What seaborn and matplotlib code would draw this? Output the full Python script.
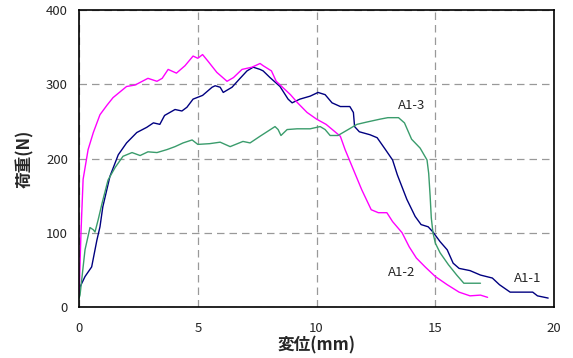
import pandas as pd
import matplotlib
matplotlib.use("Agg")
import matplotlib.pyplot as plt
import seaborn as sns

# A1-1 (navy)
x_a11 = [0, 0.04, 0.25, 0.53, 0.75, 0.88, 1.0, 1.3, 1.65, 2.0, 2.43, 2.85, 3.13, 3.4, 3.6, 4.04,
         4.33, 4.54, 4.8, 5.2, 5.6, 5.73, 5.94, 6.07, 6.44, 6.78, 7.07, 7.33, 7.62, 7.75, 8.04,
         8.46, 8.8, 8.97, 9.3, 9.73, 10.06, 10.36, 10.65, 11.0, 11.4, 11.55, 11.6, 11.8, 12.25,
         12.55, 12.9, 13.2, 13.4, 13.8, 14.15, 14.4, 14.7, 14.9, 15.2, 15.5, 15.75, 16.0, 16.46,
         16.9, 17.4, 17.7, 18.15, 18.65, 19.1, 19.3, 19.75]
y_a11 = [22, 27, 41, 54, 90, 108, 135, 176, 205, 221, 235, 242, 248, 246, 258, 266,
         264, 269, 280, 285, 296, 298, 296, 289, 296, 308, 318, 323, 320, 318, 309,
         297, 280, 275, 280, 284, 289, 286, 275, 270, 270, 262, 243, 236, 232,
         228, 212, 198, 178, 145, 122, 111, 108, 101, 88, 77, 59, 52, 49,
         43, 39, 30, 20, 20, 20, 15, 12]

# A1-2 (magenta)
x_a12 = [0, 0.08, 0.17, 0.38, 0.6, 0.88, 1.18, 1.43, 2.0, 2.36, 2.9, 3.28, 3.5, 3.75, 4.1, 4.46,
         4.8, 5.0, 5.2, 5.43, 5.8, 6.23, 6.5, 6.86, 7.28, 7.62, 7.75, 8.1, 8.3, 8.9, 9.2, 9.6,
         10.0, 10.4, 11.0, 11.2, 11.55, 11.9, 12.3, 12.6, 12.96, 13.2, 13.6, 13.9, 14.2, 14.57,
         15.0, 15.5, 16.0, 16.46, 16.9, 17.2]
y_a12 = [15, 100, 172, 212, 235, 259, 272, 282, 297, 299, 308, 304, 308, 320, 315, 325,
         338, 335, 340, 331, 316, 304, 309, 320, 323, 328, 325, 318, 304, 286, 275, 262,
         253, 246, 230, 212, 185, 158, 131, 127, 127, 115, 100, 81, 66, 54,
         41, 30, 20, 15, 16, 13]

# A1-3 (green)
x_a13 = [0, 0.04, 0.25, 0.46, 0.6, 0.67, 0.8, 0.97, 1.22, 1.52, 1.85, 2.23, 2.57, 2.9, 3.28, 3.7,
         4.04, 4.38, 4.76, 5.0, 5.5, 5.94, 6.36, 6.9, 7.2, 7.62, 8.25, 8.38, 8.5, 8.76, 9.18,
         9.73, 10.15, 10.36, 10.57, 10.9, 11.33, 11.7, 12.1, 12.67, 13.0, 13.45, 13.7, 14.0,
         14.36, 14.65, 14.72, 14.78, 14.83, 14.9, 15.0, 15.2, 15.55, 15.9, 16.2, 16.9]
y_a13 = [12, 16, 77, 107, 104, 101, 117, 140, 171, 188, 203, 208, 204, 209, 208, 212,
         216, 221, 225, 219, 220, 222, 216, 223, 221, 230, 243, 239, 231, 239, 240,
         240, 243, 239, 231, 231, 239, 246, 249, 253, 255, 255, 248, 226,
         214, 198, 180, 150, 120, 100, 86, 73, 57, 43, 32, 32]

names = ["A1-1", "A1-2", "A1-3"]
colors = ["#000080", "#FF00FF", "#3A9C6C"]
label_pos = {"A1-1": (18.9, 39), "A1-2": (13.6, 47), "A1-3": (14.0, 272)}

df = pd.concat([
    pd.DataFrame({"x": x_a11, "y": y_a11, "s": "A1-1"}),
    pd.DataFrame({"x": x_a12, "y": y_a12, "s": "A1-2"}),
    pd.DataFrame({"x": x_a13, "y": y_a13, "s": "A1-3"}),
])

sns.set_style("white")
plt.rcParams['font.family'] = ['Noto Sans CJK JP', 'DejaVu Sans']

fig = plt.figure(figsize=(5.73, 3.58), dpi=100)
ax = fig.add_axes([0.138, 0.1425, 0.829, 0.8295])
sns.lineplot(data=df, x="x", y="y", hue="s", palette=dict(zip(names, colors)),
             sort=False, estimator=None, linewidth=1.0, legend=False, ax=ax)

ax.set_xlim(0, 20)
ax.set_ylim(0, 400)
ax.set_xticks([0, 5, 10, 15, 20])
ax.set_yticks([0, 100, 200, 300, 400])
ax.grid(True, color="#999999", linestyle=(0, (6, 4)), linewidth=0.9)
for sp in ax.spines.values():
    sp.set_color("black")
    sp.set_linewidth(1.2)
ax.tick_params(axis="x", length=0, labelsize=9.5, pad=11)
ax.tick_params(axis="y", length=0, labelsize=9.5, pad=8)
ax.set_xlabel("変位(mm)", fontsize=12, fontweight="bold", labelpad=1)
ax.set_ylabel("荷重(N)", fontsize=12, fontweight="bold", labelpad=9)

for n in names:
    ax.text(*label_pos[n], n, fontsize=9.5, ha="center", va="center")

fig.savefig("out.png", dpi=100)
